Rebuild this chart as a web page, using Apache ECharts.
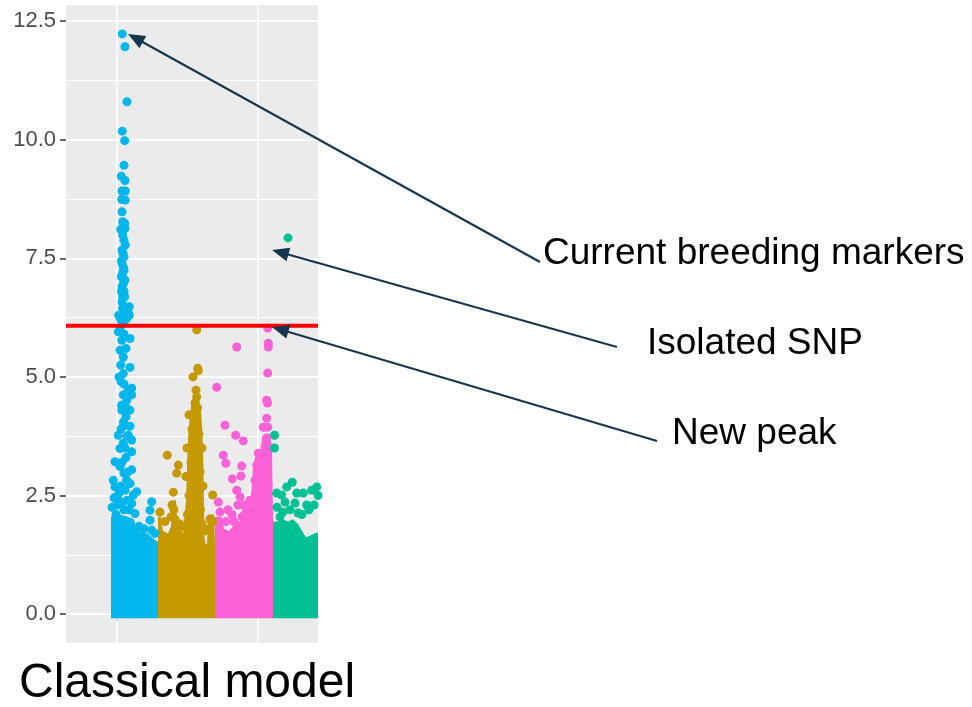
<!DOCTYPE html>
<html>
<head>
<meta charset="utf-8">
<script src="https://cdn.jsdelivr.net/npm/echarts@6/dist/echarts.min.js"></script>
<style>
html,body{margin:0;padding:0;background:#fff;}
#chart{width:972px;height:707px;}
</style>
</head>
<body>
<div id="chart"></div>
<script>
// ---- axis / reference values ----
const yTicks = [0, 2.5, 5, 7.5, 10, 12.5];
const yMinor = [1.25, 3.75, 6.25, 8.75, 11.25];
const xTicks = [117];
const xGrid = [117, 258];
const threshold = 6.08;
const chromColors = ['#00B6EB', '#C49A00', '#FB61D7', '#00C094'];

// ---- dense lower band of each chromosome: [position, upper -log10(p)] ----
const blueBand = [[111,2.05],[120,2.1],[128,2.05],[134,2.0],[136,1.8],[142,1.72],[148,1.7],[152,1.62],[158,1.52]];
const goldBand = [[158,2.05],[161,2.05],[163,1.75],[168,1.7],[171,1.85],[173,2.4],[176,2.4],[177,1.9],[180,1.85],[183,1.7],[185,1.7],
  [186,2.4],[187,3.1],[188,3.7],[189.5,4.1],[191.5,4.45],[193,4.55],[199,4.55],[201,4.3],[202.5,3.8],[203.5,3.0],[204,2.2],[204.5,1.6],
  [206,1.45],[207,1.5],[208,2.1],[214,2.1],[215,1.5]];
const pinkBand = [[215,2.05],[222,2.05],[224,1.8],[229,1.75],[233,1.85],[237,1.9],[241,2.0],[246,2.1],[249,2.25],[251.5,2.6],
  [253,3.1],[255,3.3],[258,3.35],[261,3.5],[262,3.75],[266,3.8],[270,3.8],[272,3.5],[273,2.0]];
const greenBand = [[273,1.95],[278,1.95],[283,2.0],[288,1.95],[293,2.0],[298,1.9],[302,1.75],[306,1.62],[310,1.65],[314,1.7],[318,1.72]];

// ---- individual SNPs above the band ----
const blueDots = [[122.3,12.23],[125,11.96],[127,10.80],[122.3,10.18],[124.7,9.98],[124,9.46],[121.3,9.23],[125,9.14],[122,8.92],[125.3,8.92],
  [121.7,8.74],[125.3,8.73],[122,8.48],[122.7,8.27],[124.7,8.24],[120.7,8.11],[125,8.13],[122.7,7.99],[124,7.88],[125.3,7.78],[122,7.67],
  [124,7.53],[122,7.39],[124,7.25],[121.3,7.11],[125,7.04],[122,6.9],[122.7,6.69],[124.7,6.69],[122,6.58],[129.3,6.48],[125.3,6.44],
  [118.7,6.3],[123.3,6.3],[129.3,6.3],[126.7,6.23],[121.7,6.23],[123,7.6],[121.5,7.45],[123.5,7.3],[122.5,7.18],[123.5,6.97],[121.5,6.8],
  [124,6.8],[122.5,6.45],[127,6.4],[128.5,6.35],[120.5,6.22],[124.5,6.2],
  [118.3,5.95],[123.3,6.13],[130,5.81],[121.7,5.77],[120,5.56],[123.3,5.42],[120.7,5.25],[130,5.2],[123.3,5.07],[121,4.9],[124,4.85],
  [131.7,4.76],[128.3,4.72],[131.7,4.62],[123.3,4.62],[126.7,4.51],[121.5,4.4],[130,4.3],[121.7,4.3],[126,4.16],[123.5,4.05],[130,3.96],
  [123.3,3.96],[118.3,3.77],[128.3,3.77],[131.7,3.67],[123.3,3.6],[120,3.49],[131.7,3.42],[126,3.3],[115,3.21],[120,3.11],[131.7,3.04],
  [124,2.97],[113.3,2.82],[115,2.68],[126.7,2.82],[125,2.61],[136.7,2.58],[118.3,2.4],[133.3,2.51],[151.7,2.37],[150,2.19],[131.7,2.33],
  [135,2.12],[150,1.98],[151.7,1.77],[112,2.25],[114,2.45],[117,2.3],[119,2.55],[121,2.7],[122,2.35],[127,2.4],[129,2.2],[124,2.2],
  [116,2.1],[130,2.75],[128,3.0],[122,3.2],[125,3.5],[127,3.75],[121,3.9],[125,4.4],[119,5.0],[126,5.6],[124,5.9],[120.5,6.05],
  [139,1.85],[144,1.8],[155,1.7]];
const goldDots = [[196.7,5.99],[197.7,5.18],[198.3,5.13],[193,5.0],[196,4.72],[196.7,4.58],[195,4.45],[197.5,4.35],
  [167.3,3.35],[178.3,3.14],[176.7,2.97],[173.3,2.57],[212.7,2.51],[172,2.3],[174,2.2],[171,2.05],[175,2.0],[165,1.95],[180,1.9],
  [183,1.85],[160,2.15],[210,2.0],[213,1.95],[209,1.8],[204,1.75],[202,1.9],[189,2.5],[191,3.2],[192,3.9],[199,3.8],[200,3.0],
  [200.5,2.2],[187.5,2.1],[186,2.9],[187,3.5],[189,4.2],[202,3.5],[203,2.7]];
const pinkDots = [[267.7,6.03],[268.3,5.71],[268.3,5.63],[267.7,5.08],[266.7,4.51],[267.5,4.45],[266.7,4.13],[263.3,3.94],[267.7,3.94],
  [264.3,3.94],[266.7,3.71],[265,3.52],[258.3,3.39],[261.7,3.31],[256.7,3.14],[257.7,2.55],[255,2.82],
  [236.7,5.63],[216.7,4.78],[225,3.98],[235.7,3.77],[243.3,3.65],[223.3,3.35],[225.7,3.18],[241.7,3.12],[232.3,2.85],[241,2.91],
  [218.3,2.36],[236.7,2.61],[240,2.47],[248.3,2.26],[238,2.3],[228,2.2],[232,2.1],[244,2.3],[246,2.15],[250,2.4],[253,2.3],
  [220,2.15],[226,1.95],[234,1.95],[242,2.05]];
const greenDots = [[288,7.93],[276.7,2.55],[281.7,2.51],[292.3,2.78],[286.7,2.68],[296.7,2.55],[303.3,2.55],[311.7,2.61],[316.7,2.68],
  [285,2.36],[295,2.34],[280,2.05],[306.7,2.3],[298,2.13],[274.5,3.77],[274.5,3.5],[290,2.2],[302,2.1],[309,2.2],[314,2.3],[318,2.5],
  [277,2.25],[283,2.15]];

// ---- annotations ----
const annotations = [
  {text:'Current breeding markers', x:543, y:254, from:[540,262], to:[128,34]},
  {text:'Isolated SNP', x:647, y:344, from:[617,347], to:[272,250]},
  {text:'New peak', x:672, y:434, from:[657,441], to:[272,327]}
];
const panelTitle = 'Classical model';

const chart = echarts.init(document.getElementById('chart'), null, {renderer:'canvas'});
const FONT = '"Liberation Sans", Arial, sans-serif';

const gridLines = [];
yTicks.forEach(v => gridLines.push({yAxis:v, lineStyle:{color:'#FFFFFF', width:2, type:'solid'}}));
yMinor.forEach(v => gridLines.push({yAxis:v, lineStyle:{color:'#FFFFFF', width:1, type:'solid'}}));
xGrid.forEach(v => gridLines.push({xAxis:v, lineStyle:{color:'#FFFFFF', width:1.5, type:'solid'}}));

function band(data, color){
  return {type:'line', data:data, symbol:'none', silent:true, z:2, animation:false,
    lineStyle:{width:0, opacity:0}, areaStyle:{color:color, opacity:1, origin:-0.09}};
}
function dots(data, color){
  return {type:'scatter', data:data, symbol:'circle', symbolSize:9, silent:true, z:3, animation:false,
    itemStyle:{color:color, opacity:1}};
}

const graphics = [];
const arrowColor = '#17374F';
annotations.forEach(a => {
  const dx = a.to[0]-a.from[0], dy = a.to[1]-a.from[1];
  const L = Math.sqrt(dx*dx+dy*dy), ux = dx/L, uy = dy/L;
  const hl = 17, hw = 7;
  const bx = a.to[0]-ux*hl, by = a.to[1]-uy*hl;
  graphics.push({type:'line', z:10, shape:{x1:a.from[0], y1:a.from[1], x2:bx+ux*3, y2:by+uy*3},
    style:{stroke:arrowColor, lineWidth:2.2}});
  graphics.push({type:'polygon', z:10, shape:{points:[[a.to[0],a.to[1]],[bx-uy*hw, by+ux*hw],[bx+uy*hw, by-ux*hw]]},
    style:{fill:arrowColor}});
  graphics.push({type:'text', z:10, x:a.x, y:a.y, style:{text:a.text, font:'37px '+FONT, fill:'#000000',
    textAlign:'left', textVerticalAlign:'middle'}});
});
graphics.push({type:'text', z:10, x:19, y:684, style:{text:panelTitle, font:'48px '+FONT, fill:'#000000',
  textAlign:'left', textVerticalAlign:'middle'}});

chart.setOption({
  backgroundColor:'#FFFFFF',
  animation:false,
  grid:{left:66, right:654, top:5, bottom:64, show:true, backgroundColor:'#EBEBEB', borderWidth:0, containLabel:false},
  xAxis:{type:'value', min:66, max:318,
    axisLine:{show:false}, splitLine:{show:false},
    axisTick:{show:true, length:7, customValues:xTicks, lineStyle:{color:'#333333', width:1.5}},
    axisLabel:{show:false}},
  yAxis:{type:'value', min:-0.61, max:12.84,
    axisLine:{show:false}, splitLine:{show:false},
    axisTick:{show:true, length:6, customValues:yTicks, lineStyle:{color:'#333333', width:1.5}},
    axisLabel:{show:true, customValues:yTicks, formatter:v => Number(v).toFixed(1), color:'#4D4D4D',
      fontSize:22, fontFamily:FONT, margin:10}},
  series:[
    {type:'line', data:[], z:1, silent:true, animation:false,
      markLine:{silent:true, symbol:'none', animation:false, z:1, label:{show:false}, data:gridLines}},
    band(blueBand, chromColors[0]),
    band(goldBand, chromColors[1]),
    band(pinkBand, chromColors[2]),
    band(greenBand, chromColors[3]),
    dots(greenDots, chromColors[3]),
    dots(blueDots, chromColors[0]),
    dots(goldDots, chromColors[1]),
    dots(pinkDots, chromColors[2]),
    {type:'line', data:[[66,threshold],[318,threshold]], symbol:'none', silent:true, z:5, animation:false,
      lineStyle:{color:'#FF0000', width:4}}
  ],
  graphic:graphics
});
</script>
</body>
</html>
